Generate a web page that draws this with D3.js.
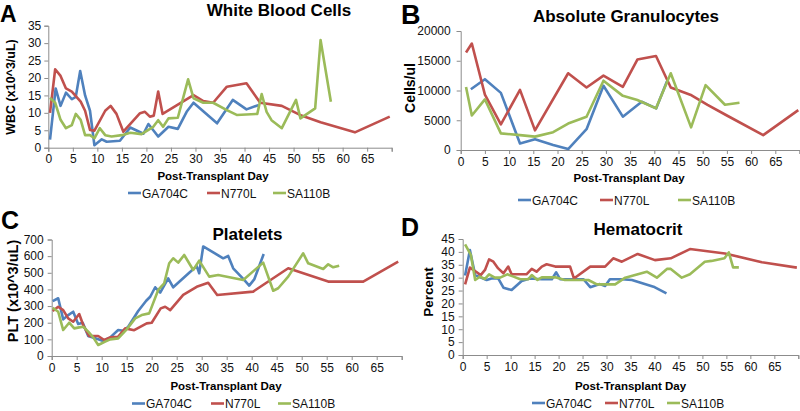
<!DOCTYPE html>
<html><head><meta charset="utf-8">
<script src="https://cdn.jsdelivr.net/npm/d3@7"></script>
<style>body{margin:0;background:#fff}svg{display:block}text{font-family:"Liberation Sans",Arial,sans-serif}</style>
</head><body>
<svg id="c" width="800" height="411"></svg>
<script>
const seriesNames = ["GA704C","N770L","SA110B"];
const colors = ["#4F81BD","#C0504D","#9BBB59"];

// A: White Blood Cells (x10^3/uL)
const wbcGA704C = [[0.35,2.3],[1.5,17],[2.5,12],[3.6,15.8],[4.8,13.9],[5.6,14.6],[6.5,22],[7.5,15],[8.5,10.6],[9.4,0.7],[10.9,2.4],[11.9,1.7],[14.6,2],[16.7,5.8],[19.4,4],[20.4,6.8],[21.4,5],[22.4,3.2],[24.5,6],[26.4,5.4],[28.2,10.3],[29.6,12.9],[34.4,7],[37.6,13.7],[40.4,11],[42.8,12.2]];
const wbcN770L = [[0.35,10],[1.4,22.5],[2.5,20.6],[3.6,17],[4.8,16.1],[5.6,14.8],[6.6,13.2],[7.5,10.6],[8.5,5.1],[9.4,4.9],[11.6,10.6],[12.7,12],[13.9,9.7],[15.3,4.6],[18.7,9.9],[19.7,10.3],[20.7,8.9],[21.5,9.2],[22.4,16.1],[23.3,9.7],[29.6,15.1],[31.6,13.4],[33.6,12.9],[36.4,17.5],[40.4,18.5],[43.2,12.9],[47.6,12],[51.3,9.4],[55.5,7.3],[62.5,4.4],[69.6,8.9]];
const wbcSA110B = [[0.35,14.3],[1.4,12.9],[2.5,8],[3.6,5.6],[4.8,6.5],[5.6,9.7],[6.6,8],[7.5,3.6],[8.5,3.6],[9.4,2.7],[10.5,5.6],[11.6,3.6],[12.9,3.2],[15,3.6],[16.7,4.3],[19,3.9],[21.4,6],[22.4,7.9],[23.4,6],[24.5,8.4],[26.4,8.6],[28.5,19.6],[29.6,14.2],[31.6,12.9],[33.6,12.9],[36.4,10.8],[38.4,9.4],[42.6,9.7],[43.5,15.4],[44.5,10.3],[45.5,7.9],[47.6,5.6],[50.5,13.7],[51.4,8.4],[54.4,11.3],[55.5,30.9],[57.6,13.2]];

// B: Absolute Granulocytes (cells/ul)
const granGA704C = [[2.1,10200],[5,11900],[8.3,9600],[12.25,1100],[15.35,1800],[19.1,850],[22.2,150],[26,3500],[29.5,10800],[33.5,5600],[37.4,8100],[40.4,7000],[42.6,11500]];
const granN770L = [[1.1,16400],[2.3,17900],[5,9300],[8.3,4300],[12.25,10100],[15.35,3300],[22.2,12900],[26,10500],[29.5,12500],[33.5,10600],[36.5,15200],[40.35,15800],[43.4,10500],[47.7,9200],[51,7600],[55,5800],[62.5,2500],[69.75,6700]];
const granSA110B = [[1.1,10600],[2.3,5800],[5,8500],[8.3,2800],[12.25,2500],[15.35,2250],[19.1,3000],[22.2,4450],[26,5600],[29.5,11650],[33.5,9100],[36.5,8400],[40.35,7000],[43.4,12900],[47.6,3800],[50.6,10900],[54.6,7600],[57.6,7950]];

// C: Platelets (x10^3/uL)
const pltGA704C = [[0.2,330],[1.3,347],[2.3,220],[3.3,246],[4.3,266],[5.3,192],[6.2,200],[7.3,120],[9.3,100],[10.3,90],[11.7,112],[13.3,156],[14.3,152],[15.3,176],[17.3,270],[18.9,332],[19.7,356],[20.7,413],[21.7,381],[23.3,467],[24.3,413],[27.5,500],[29,540],[29.5,497],[30.3,658],[34.3,587],[35.3,601],[36.3,527],[38.5,457],[39.5,423],[40.5,460],[42.4,613]];
const pltN770L = [[0.2,270],[1.3,296],[2.3,276],[3.3,226],[4.3,206],[5.5,252],[6.3,186],[7.5,120],[9.3,120],[10.5,96],[11.7,112],[13.3,116],[14.7,166],[16.5,155],[19,196],[20,200],[21.8,286],[22.7,296],[23.7,276],[26.3,367],[29,416],[31.3,440],[33.1,367],[40.3,387],[47.3,527],[55.3,447],[62.3,447],[69.3,567]];
const pltSA110B = [[0.2,290],[1.3,266],[2.3,156],[3.5,200],[4.5,166],[5.5,172],[6.3,176],[7.3,146],[8.3,112],[9.3,66],[10.7,86],[11.7,100],[13.3,106],[15,160],[16.7,226],[18,246],[19.5,256],[21.3,397],[22.5,437],[23.5,557],[24.3,587],[25.3,561],[26.5,607],[28.3,517],[29.5,573],[31.5,477],[33.3,487],[38.3,457],[42.3,561],[44.3,392],[45.3,407],[47.3,477],[50.3,617],[51.3,557],[54.3,523],[55.3,551],[56.3,533],[57.5,543]];

// D: Hematocrit (percent)
const hctGA704C = [[0.5,30.8],[1.5,40.7],[2.6,31],[5,29.1],[6,29.7],[7.4,29.7],[8.5,26.1],[10.2,25.2],[12.3,28.7],[14,29.7],[16.5,29.4],[18.6,29.4],[19.5,32.1],[20.3,29.4],[25.2,29.4],[26.6,26.3],[28.6,27.5],[29.7,26.8],[30.7,29.4],[33.2,29.4],[35.3,29.1],[39.8,26.5],[42.5,23.9]];
const hctN770L = [[0.5,27.4],[1.5,33.9],[2.8,32.3],[3.75,31],[4.65,33],[5.5,37.1],[6.4,36.2],[7.4,33.6],[8.5,31.7],[9.5,34.3],[10.2,31.3],[13.3,31.3],[14.4,33.4],[15.4,32.3],[16.5,34.3],[17.5,35.2],[19.3,34.3],[22.4,34.3],[23.2,29.7],[26.6,34.3],[29.7,34.3],[31.4,37.5],[33.2,36.2],[36.5,39.2],[40.1,36.8],[43.4,37.5],[47.4,41.1],[54.7,39.4],[62.4,36],[69.7,33.9]];
const hctSA110B = [[0.5,42.9],[1.7,38.8],[2.6,29.1],[3.6,30.4],[4.65,29.5],[5.5,31.3],[6.7,30],[7.8,30],[9.3,31.3],[10.6,30.4],[12,29.4],[13.7,29.4],[14.4,31],[15.6,29.1],[16.5,30.1],[19.5,30.1],[21.3,29.1],[26.2,29.1],[28,27.4],[31.8,27.4],[33.9,30],[38.4,32.3],[40.5,30],[42.6,33.4],[43.4,33.4],[45.7,30],[47.4,31.3],[50.5,36.2],[51.9,36.5],[54.6,37.5],[55.5,39.8],[56.4,34],[57.6,34]];

const xTicks = [0,5,10,15,20,25,30,35,40,45,50,55,60,65,70];
const xTickLabels = ["0","5","10","15","20","25","30","35","40","45","50","55","60","65",""];
const wbcTicks = [0,5,10,15,20,25,30,35];
const granTicks = [0,5000,10000,15000,20000];
const pltTicks = [0,100,200,300,400,500,600,700];
const hctTicks = [0,5,10,15,20,25,30,35,40,45];

const panels = [
  {letter:"A", lx:0, ly:21.5, lsize:23, title:"White Blood Cells", tx:279, ty:15.5, ylab:"WBC (x10^3/uL)", ylx:15, yly:87, ylsize:12.5,
   x0:48.3, x1:391.7, y0:147.7, y1:25.7, ymax:35, yticks:wbcTicks, lpad:5,
   xtx:213, xty:180, legY:193, legX:[128,207,273], data:[wbcGA704C,wbcN770L,wbcSA110B]},
  {letter:"B", lx:401, ly:24, lsize:27, title:"Absolute Granulocytes", tx:626, ty:22, ylab:"Cells/ul", ylx:415, yly:88, ylsize:14,
   x0:460.7, x1:799.5, y0:150, y1:31, ymax:20000, yticks:granTicks, lpad:8,
   xtx:629, xty:182, legY:200, legX:[518,600,678], data:[granGA704C,granN770L,granSA110B]},
  {letter:"C", lx:1, ly:229, lsize:25, title:"Platelets", tx:247.5, ty:240, ylab:"PLT (x10^3/uL)", ylx:18, yly:291, ylsize:14.5,
   x0:51.7, x1:401.7, y0:356, y1:239.5, ymax:700, yticks:pltTicks, lpad:6,
   xtx:226, xty:390, legY:403.5, legX:[132,211,278], data:[pltGA704C,pltN770L,pltSA110B]},
  {letter:"D", lx:401, ly:236, lsize:25, title:"Hematocrit", tx:638, ty:235, ylab:"Percent", ylx:433, yly:292, ylsize:13.5,
   x0:462.7, x1:798.3, y0:355, y1:239, ymax:45, yticks:hctTicks, lpad:6,
   xtx:630.5, xty:390, legY:403, legX:[532,605,667], data:[hctGA704C,hctN770L,hctSA110B]}
];

const svg = d3.select("#c");
const axisColor = "#8c8c8c";

panels.forEach(p => {
  const g = svg.append("g");
  const x = d3.scaleLinear().domain([0,70]).range([p.x0,p.x1]);
  const y = d3.scaleLinear().domain([0,p.ymax]).range([p.y0,p.y1]);

  const xa = g.append("g").attr("transform",`translate(0,${p.y0})`)
    .call(d3.axisBottom(x).tickValues(xTicks).tickSize(4).tickPadding(3)
      .tickFormat((d,i)=>xTickLabels[i]));
  const ya = g.append("g").attr("transform",`translate(${p.x0},0)`)
    .call(d3.axisLeft(y).tickValues(p.yticks).tickSize(4).tickPadding(p.lpad-2)
      .tickFormat(d3.format("d")));
  [xa,ya].forEach(a=>{
    a.select(".domain").attr("stroke",axisColor).attr("stroke-width",1);
    a.selectAll(".tick line").attr("stroke",axisColor);
    a.selectAll(".tick text").attr("fill","#111").style("font-size","12px")
      .style("font-family","'Liberation Sans',Arial,sans-serif");
  });

  const line = d3.line().x(d=>x(d[0])).y(d=>y(d[1]));
  p.data.forEach((s,i)=>{
    g.append("path").datum(s).attr("d",line).attr("fill","none")
      .attr("stroke",colors[i]).attr("stroke-width",2.6)
      .attr("stroke-linejoin","round").attr("stroke-linecap","butt");
  });

  g.append("text").attr("x",p.lx).attr("y",p.ly).text(p.letter)
    .style("font-size",p.lsize+"px").style("font-weight","bold");
  g.append("text").attr("x",p.tx).attr("y",p.ty).attr("text-anchor","middle").text(p.title)
    .style("font-size","17px").style("font-weight","bold");
  g.append("text").attr("transform",`translate(${p.ylx},${p.yly}) rotate(-90)`)
    .attr("text-anchor","middle").text(p.ylab)
    .style("font-size",p.ylsize+"px").style("font-weight","bold");
  g.append("text").attr("x",p.xtx).attr("y",p.xty).attr("text-anchor","middle").text("Post-Transplant Day")
    .style("font-size","11.5px").style("font-weight","bold");
  seriesNames.forEach((n,i)=>{
    const lx = p.legX[i];
    g.append("line").attr("x1",lx).attr("x2",lx+13).attr("y1",p.legY).attr("y2",p.legY)
      .attr("stroke",colors[i]).attr("stroke-width",2.6);
    g.append("text").attr("x",lx+14).attr("y",p.legY+4.5).text(n)
      .style("font-size","12px").attr("fill","#111");
  });
});
</script>
</body></html>
